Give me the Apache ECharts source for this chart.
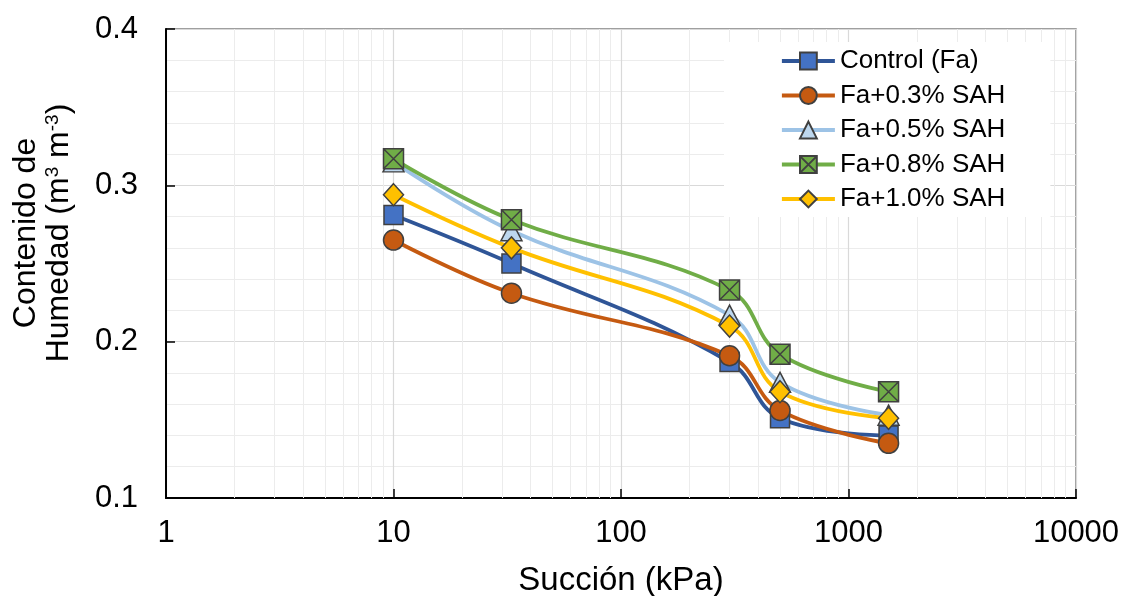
<!DOCTYPE html>
<html>
<head>
<meta charset="utf-8">
<script src="https://cdn.jsdelivr.net/npm/echarts@6/dist/echarts.min.js"></script>
<style>
  html, body { margin: 0; padding: 0; background: #ffffff; }
  #chart { width: 1126px; height: 596px; }
</style>
</head>
<body>
<div id="chart"></div>
<script>
// Suction steps (kPa) and volumetric water content (m3 m-3) per treatment
const suction = [10, 33, 300, 500, 1500];
const control = [0.281, 0.250, 0.187, 0.151, 0.140];
const sah03 = [0.265, 0.231, 0.191, 0.156, 0.135];
const sah05 = [0.315, 0.271, 0.217, 0.174, 0.153];
const sah08 = [0.317, 0.278, 0.233, 0.192, 0.168];
const sah10 = [0.294, 0.260, 0.210, 0.168, 0.151];
const seriesNames = ['Control (Fa)', 'Fa+0.3% SAH', 'Fa+0.5% SAH', 'Fa+0.8% SAH', 'Fa+1.0% SAH'];
const xTickLabels = ['1', '10', '100', '1000', '10000'];
const yTickLabels = ['0.1', '0.2', '0.3', '0.4'];

const FONT = '"Liberation Sans", Arial, Helvetica, sans-serif';
const MARKER_EDGE = '#404040';
// square with a cross through it
const crossBox = 'path://M0,0H20V20H0Z M0,0L20,20 M20,0L0,20';

const looks = [
  { line: '#2F5597', fill: '#4472C4', symbol: 'rect', size: 19 },
  { line: '#C55A11', fill: '#C55A11', symbol: 'circle', size: 20 },
  { line: '#9DC3E6', fill: '#BDD7EE', symbol: 'triangle', size: [21, 20] },
  { line: '#70AD47', fill: '#70AD47', symbol: crossBox, size: 20 },
  { line: '#FFC000', fill: '#FFC000', symbol: 'diamond', size: [20, 22] }
];
const values = [control, sah03, sah05, sah08, sah10];

// minor vertical grid lines at 2..9 of each decade
const minorX = [];
[1, 10, 100, 1000].forEach(d => { for (let k = 2; k <= 9; k++) minorX.push(d * k); });

const series = values.map((ys, s) => {
  const lk = looks[s];
  const item = {
    name: seriesNames[s],
    type: 'line',
    data: suction.map((x, i) => [x, ys[i]]),
    smooth: 0.4,
    symbol: lk.symbol,
    symbolSize: lk.size,
    lineStyle: { color: lk.line, width: 3.8 },
    itemStyle: { color: lk.fill, borderColor: MARKER_EDGE, borderWidth: 1.5 },
    emphasis: { disabled: true },
    z: 2
  };
  if (s === 0) {
    item.markLine = {
      silent: true,
      z: 1,
      symbol: ['none', 'none'],
      label: { show: false },
      emphasis: { disabled: true },
      lineStyle: { color: '#ececec', width: 1, type: 'solid' },
      data: minorX.map(v => ({ xAxis: v }))
    };
  }
  return item;
});

const chart = echarts.init(document.getElementById('chart'), null, { renderer: 'canvas' });
chart.setOption({
  animation: false,
  backgroundColor: '#ffffff',
  textStyle: { fontFamily: FONT },
  grid: {
    left: 166, right: 50, top: 29, bottom: 98,
    outerBoundsMode: 'none',
    containLabel: false,
    show: true, borderColor: '#808080', borderWidth: 1.5,
    backgroundColor: 'transparent'
  },
  legend: {
    orient: 'vertical',
    left: 724, top: 42,
    padding: [6, 45, 5, 56],
    backgroundColor: '#ffffff',
    itemWidth: 53, itemHeight: 21, itemGap: 8.5,
    lineStyle: { width: 3.8 },
    textStyle: { fontFamily: FONT, fontSize: 26, color: '#000000', lineHeight: 26 },
    data: seriesNames
  },
  xAxis: {
    type: 'log', logBase: 10, min: 1, max: 10000,
    name: 'Succión (kPa)', nameLocation: 'middle', nameGap: 66,
    nameTextStyle: { fontFamily: FONT, fontSize: 33, color: '#000000' },
    axisLine: { lineStyle: { color: '#000000', width: 2 } },
    axisTick: { inside: true, length: 9, lineStyle: { color: '#000000', width: 1.5 } },
    axisLabel: {
      margin: 20, fontFamily: FONT, fontSize: 31, color: '#000000',
      formatter: (v, i) => xTickLabels[i]
    },
    splitLine: { show: true, lineStyle: { color: '#d9d9d9', width: 1.2 } },
    minorSplitLine: { show: false }
  },
  yAxis: {
    type: 'value', min: 0.1, max: 0.4, interval: 0.1,
    axisLine: { show: true, lineStyle: { color: '#000000', width: 2 } },
    axisTick: { show: true, inside: true, length: 9, lineStyle: { color: '#000000', width: 1.5 } },
    axisLabel: {
      margin: 28, fontFamily: FONT, fontSize: 31, color: '#000000',
      formatter: (v, i) => yTickLabels[i]
    },
    splitLine: { show: true, lineStyle: { color: '#d9d9d9', width: 1.2 } },
    minorTick: { show: false, splitNumber: 5 },
    minorSplitLine: { show: true, lineStyle: { color: '#ececec', width: 1 } }
  },
  graphic: [{
    type: 'text',
    x: 43, y: 233,
    rotation: Math.PI / 2,
    silent: true,
    style: {
      text: '{t|Contenido de}\n{t|Humedad (m}{s|3}{t| m}{s|-3}{t|)}',
      align: 'center',
      verticalAlign: 'middle',
      fill: '#000000',
      rich: {
        t: { fontFamily: FONT, fontSize: 32, lineHeight: 33, fill: '#000000' },
        s: { fontFamily: FONT, fontSize: 19, lineHeight: 19, verticalAlign: 'top', fill: '#000000' }
      }
    }
  }],
  series: series
});
</script>
</body>
</html>
